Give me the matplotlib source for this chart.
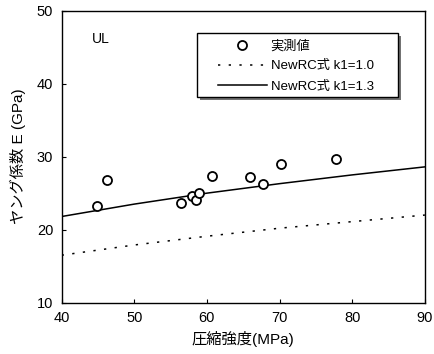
import matplotlib
matplotlib.use('Agg')
import matplotlib.pyplot as plt
from matplotlib.patches import Rectangle

plt.rcParams['font.family'] = ['Liberation Sans', 'Noto Sans CJK JP']

# 実測値
strength = [44.8, 46.2, 56.4, 58.0, 58.5, 58.9, 60.7, 65.9, 67.7, 70.2, 77.8]
young = [23.3, 26.8, 23.7, 24.6, 24.0, 25.0, 27.4, 27.2, 26.2, 29.0, 29.7]

# NewRC式
x_line = [40, 50, 60, 70, 80, 90]
e_k10 = [16.5, 17.9, 19.1, 20.2, 21.1, 22.0]
e_k13 = [21.8, 23.5, 25.0, 26.3, 27.5, 28.6]

fig = plt.figure(figsize=(4.34, 3.54), dpi=100)
ax = fig.add_axes([0.142, 0.145, 0.837, 0.825])

ax.plot(strength, young, 'o', mfc='white', mec='black', mew=1.3, ms=6.5,
        label='実測値', zorder=3)
ax.plot(x_line, e_k10, color='black', lw=1.1, linestyle=(0, (1.5, 5.5)),
        label='NewRC式 k1=1.0')
ax.plot(x_line, e_k13, color='black', lw=1.1, label='NewRC式 k1=1.3')

ax.set_xlim(40, 90)
ax.set_ylim(10, 50)
ax.set_xticks([40, 50, 60, 70, 80, 90])
ax.set_yticks([10, 20, 30, 40, 50])
ax.tick_params(direction='in', length=3, width=0.8, labelsize=10.5, pad=6)
for s in ax.spines.values():
    s.set_linewidth(1.0)

ax.set_xlabel('圧縮強度(MPa)', fontsize=11, labelpad=4)
ax.set_ylabel('ヤング係数 E (GPa)', fontsize=11, labelpad=8)

ax.text(0.083, 0.904, 'UL', transform=ax.transAxes, fontsize=10, va='center')

# legend box with drop shadow (drawn by hand for the wide side padding)
bx, by, bw, bh = 0.372, 0.705, 0.554, 0.220
ax.add_patch(Rectangle((bx + 0.009, by - 0.011), bw, bh, transform=ax.transAxes,
                       facecolor='0.45', edgecolor='none', zorder=4))
ax.add_patch(Rectangle((bx, by), bw, bh, transform=ax.transAxes,
                       facecolor='white', edgecolor='black', lw=1.0, zorder=4))

leg = ax.legend(loc='upper left', bbox_to_anchor=(0.43, 0.90), frameon=False,
                fontsize=9.5, handlelength=3.7, borderpad=0, borderaxespad=0,
                labelspacing=0.6, handletextpad=0.3)
leg.set_zorder(5)

fig.savefig('out.png', dpi=100)
